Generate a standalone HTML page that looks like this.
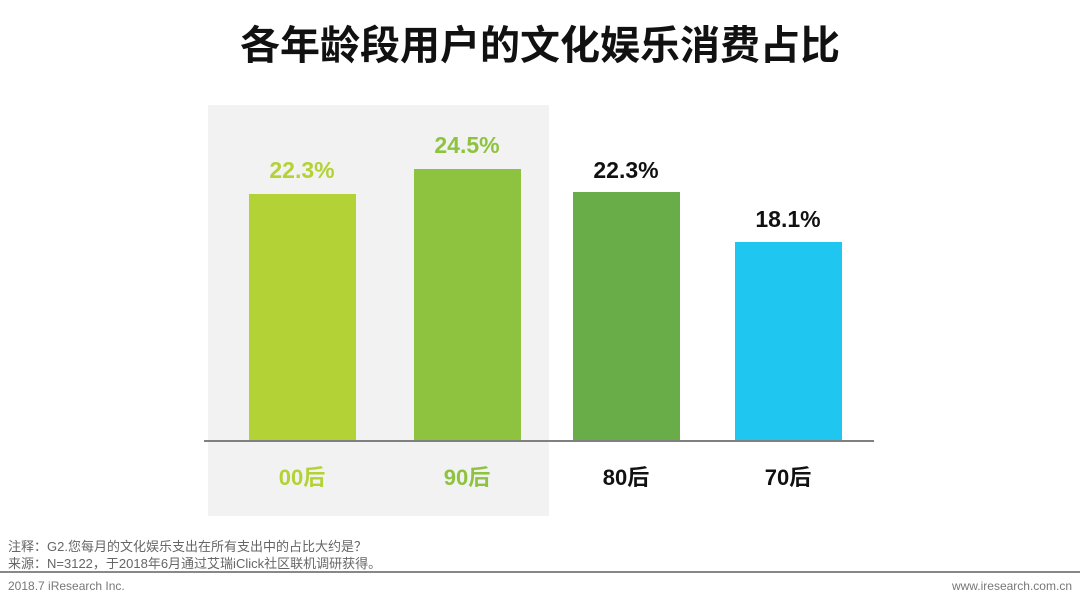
<!DOCTYPE html>
<html><head><meta charset="utf-8"><style>
body{margin:0;width:1080px;height:602px;background:#fff;position:relative;overflow:hidden;font-family:"Liberation Sans","Noto Sans CJK SC",sans-serif}
div{position:absolute}
.t{font-weight:bold;text-align:center;width:160px;font-size:23px}
.c{font-weight:bold;text-align:center;width:160px;font-size:22px}
</style></head><body>
<div style="left:0;width:1080px;top:13px;text-align:center;font-size:40px;font-weight:bold;color:#111">各年龄段用户的文化娱乐消费占比</div>
<div style="left:208px;top:105px;width:341px;height:411px;background:#f2f2f2"></div>
<div style="left:249px;top:194px;width:107px;height:247px;background:#b2d235"></div>
<div style="left:414px;top:169px;width:107px;height:272px;background:#8dc33f"></div>
<div style="left:573px;top:192px;width:107px;height:249px;background:#68ad47"></div>
<div style="left:735px;top:242px;width:107px;height:199px;background:#1fc6ef"></div>
<div style="left:204px;top:440px;width:670px;height:2px;background:#808080"></div>
<div class="t" style="left:222px;top:157px;color:#b2d235">22.3%</div>
<div class="t" style="left:387px;top:132px;color:#8dc33f">24.5%</div>
<div class="t" style="left:546px;top:157px;color:#111">22.3%</div>
<div class="t" style="left:708px;top:206px;color:#111">18.1%</div>
<div class="c" style="left:222px;top:460px;color:#b2d235">00后</div>
<div class="c" style="left:387px;top:460px;color:#8dc33f">90后</div>
<div class="c" style="left:546px;top:460px;color:#111">80后</div>
<div class="c" style="left:708px;top:460px;color:#111">70后</div>
<div style="left:8px;top:538px;font-size:13px;color:#666;line-height:17px">注释：G2.您每月的文化娱乐支出在所有支出中的占比大约是？<br>来源：N=3122，于2018年6月通过艾瑞iClick社区联机调研获得。</div>
<div style="left:0;top:571px;width:1080px;height:2px;background:#888"></div>
<div style="left:8px;top:579px;font-size:12px;color:#777">2018.7 iResearch Inc.</div>
<div style="right:8px;top:579px;font-size:12px;color:#777">www.iresearch.com.cn</div>
</body></html>
